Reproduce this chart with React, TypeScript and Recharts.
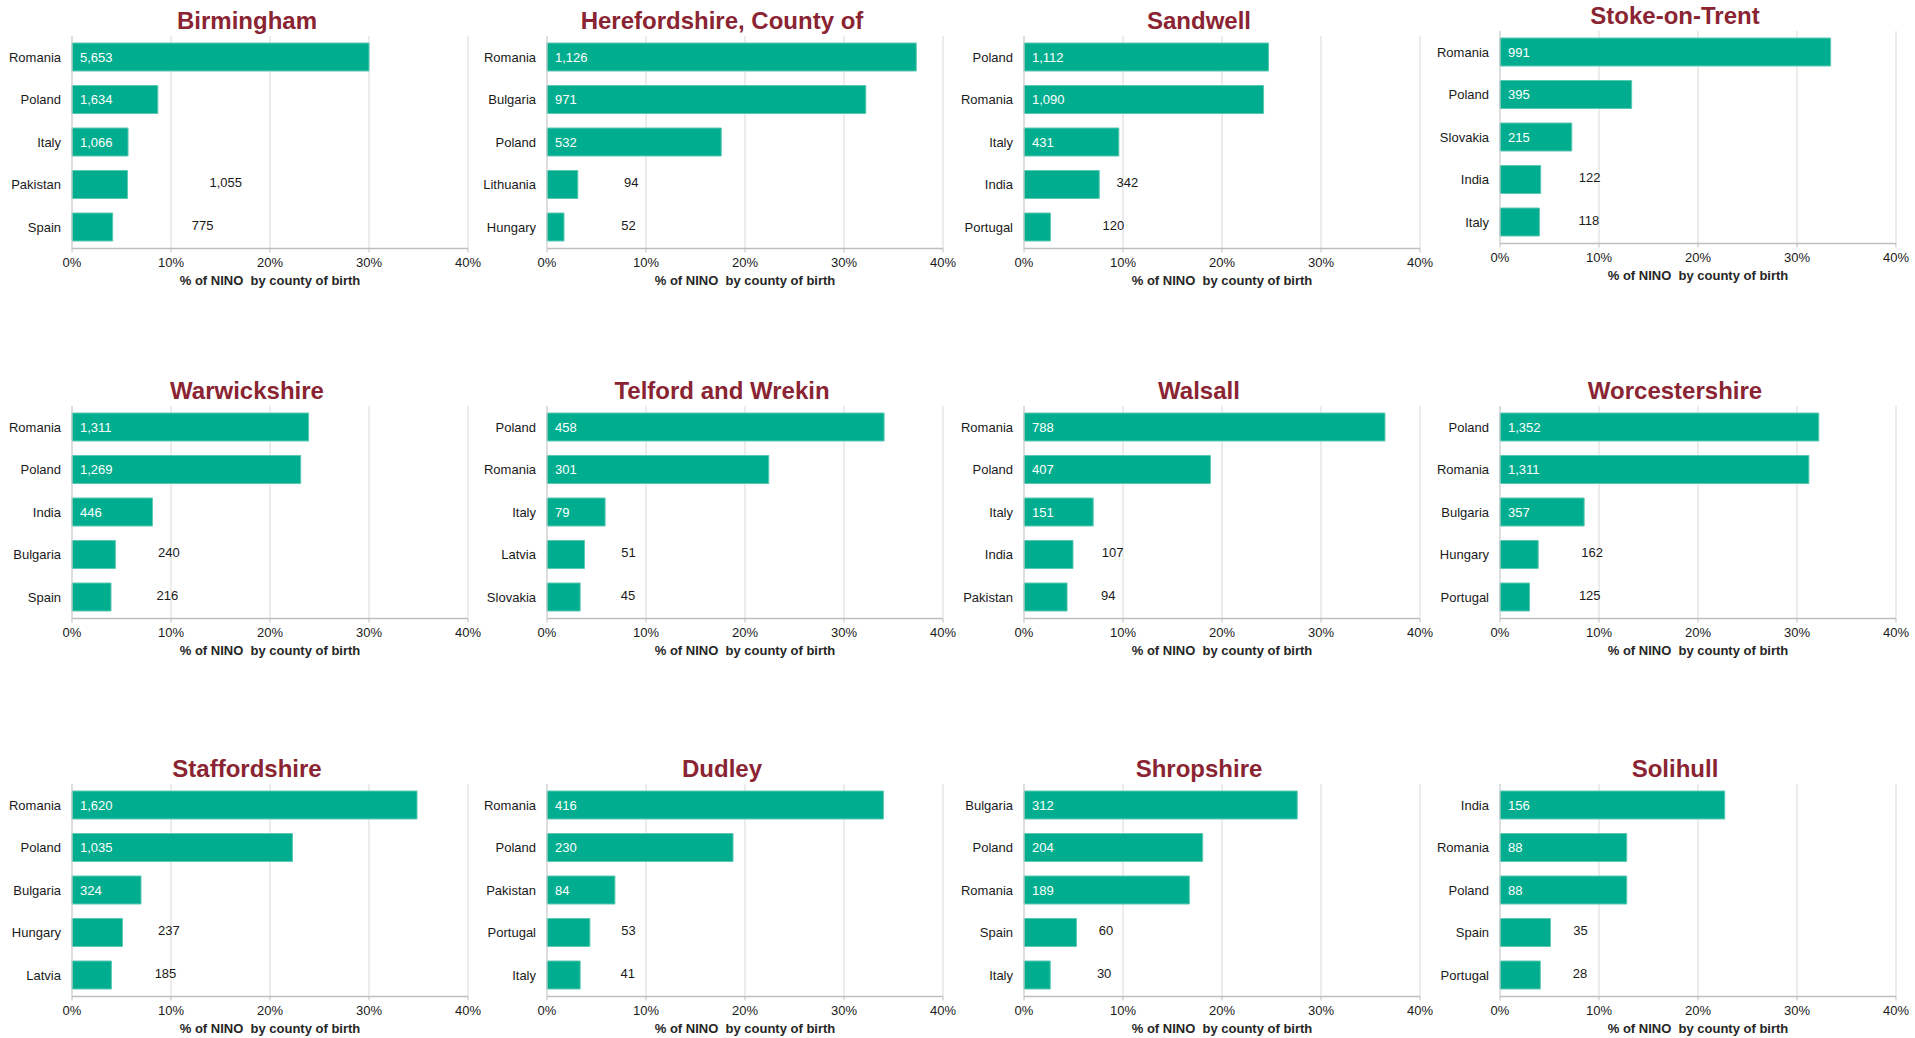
import React from "react";
import { BarChart, Bar, XAxis, YAxis, CartesianGrid, LabelList, Label } from "recharts";

// top 5 countries of birth per local authority: % share and NINo count
const birminghamCountries = ["Romania", "Poland", "Italy", "Pakistan", "Spain"];
const birminghamShare = [30.0, 8.67, 5.66, 5.6, 4.11];
const birminghamNino = [5653, 1634, 1066, 1055, 775];

const herefordshireCountries = ["Romania", "Bulgaria", "Poland", "Lithuania", "Hungary"];
const herefordshireShare = [37.3, 32.2, 17.6, 3.11, 1.72];
const herefordshireNino = [1126, 971, 532, 94, 52];

const sandwellCountries = ["Poland", "Romania", "Italy", "India", "Portugal"];
const sandwellShare = [24.7, 24.2, 9.58, 7.6, 2.67];
const sandwellNino = [1112, 1090, 431, 342, 120];

const stokeCountries = ["Romania", "Poland", "Slovakia", "India", "Italy"];
const stokeShare = [33.4, 13.3, 7.25, 4.11, 3.98];
const stokeNino = [991, 395, 215, 122, 118];

const warwickshireCountries = ["Romania", "Poland", "India", "Bulgaria", "Spain"];
const warwickshireShare = [23.9, 23.1, 8.13, 4.38, 3.94];
const warwickshireNino = [1311, 1269, 446, 240, 216];

const telfordCountries = ["Poland", "Romania", "Italy", "Latvia", "Slovakia"];
const telfordShare = [34.05, 22.4, 5.87, 3.79, 3.35];
const telfordNino = [458, 301, 79, 51, 45];

const walsallCountries = ["Romania", "Poland", "Italy", "India", "Pakistan"];
const walsallShare = [36.46, 18.83, 6.99, 4.95, 4.35];
const walsallNino = [788, 407, 151, 107, 94];

const worcestershireCountries = ["Poland", "Romania", "Bulgaria", "Hungary", "Portugal"];
const worcestershireShare = [32.2, 31.2, 8.5, 3.86, 2.98];
const worcestershireNino = [1352, 1311, 357, 162, 125];

const staffordshireCountries = ["Romania", "Poland", "Bulgaria", "Hungary", "Latvia"];
const staffordshireShare = [34.85, 22.27, 6.97, 5.1, 3.98];
const staffordshireNino = [1620, 1035, 324, 237, 185];

const dudleyCountries = ["Romania", "Poland", "Pakistan", "Portugal", "Italy"];
const dudleyShare = [33.98, 18.79, 6.86, 4.33, 3.35];
const dudleyNino = [416, 230, 84, 53, 41];

const shropshireCountries = ["Bulgaria", "Poland", "Romania", "Spain", "Italy"];
const shropshireShare = [27.6, 18.05, 16.7, 5.3, 2.65];
const shropshireNino = [312, 204, 189, 60, 30];

const solihullCountries = ["India", "Romania", "Poland", "Spain", "Portugal"];
const solihullShare = [22.7, 12.8, 12.8, 5.09, 4.07];
const solihullNino = [156, 88, 88, 35, 28];

const xTicks = [0, 10, 20, 30, 40];

const panels = [
  { title: "Birmingham", countries: birminghamCountries, share: birminghamShare, nino: birminghamNino },
  { title: "Herefordshire, County of", countries: herefordshireCountries, share: herefordshireShare, nino: herefordshireNino },
  { title: "Sandwell", countries: sandwellCountries, share: sandwellShare, nino: sandwellNino },
  { title: "Stoke-on-Trent", countries: stokeCountries, share: stokeShare, nino: stokeNino },
  { title: "Warwickshire", countries: warwickshireCountries, share: warwickshireShare, nino: warwickshireNino },
  { title: "Telford and Wrekin", countries: telfordCountries, share: telfordShare, nino: telfordNino },
  { title: "Walsall", countries: walsallCountries, share: walsallShare, nino: walsallNino },
  { title: "Worcestershire", countries: worcestershireCountries, share: worcestershireShare, nino: worcestershireNino },
  { title: "Staffordshire", countries: staffordshireCountries, share: staffordshireShare, nino: staffordshireNino },
  { title: "Dudley", countries: dudleyCountries, share: dudleyShare, nino: dudleyNino },
  { title: "Shropshire", countries: shropshireCountries, share: shropshireShare, nino: shropshireNino },
  { title: "Solihull", countries: solihullCountries, share: solihullShare, nino: solihullNino },
];

// layout (px, page coords)
const COL_X0 = [72, 547, 1024, 1500];
const PLOT_TOP = [35.5, 35.5, 35.5, 31, 405.5, 405.5, 405.5, 405.5, 783.5, 783.5, 783.5, 783.5];
const PLOT_W = 396;
const PLOT_H = 212.5;
const LEFT = 72;
const MT = 40;
const RIGHT = 26;
const XH = 42;
const MB = 8;

const FONT = '"Liberation Sans", Arial, sans-serif';
const TEAL = "#00ae8f";
const TITLE = "#8a2432";

function Panel({ p, x0, top }: { p: any; x0: number; top: number }) {
  const data = p.countries.map((c: string, i: number) => ({
    country: c,
    share: p.share[i],
    nino: p.nino[i],
  }));
  const threshold = p.nino[2];

  const renderLabel = (props: any) => {
    const vb = props.viewBox || {};
    const x = props.x ?? vb.x;
    const y = props.y ?? vb.y;
    const h = props.height ?? vb.height;
    const v = Number(props.value);
    const txt = v.toLocaleString("en-US");
    if (v >= threshold) {
      return (
        <text x={x + 8} y={y + h / 2} dy="0.36em" fill="#ffffff" fontSize={13} fontFamily={FONT}>
          {txt}
        </text>
      );
    }
    return (
      <text x={x + 71 + v * 0.063} y={y + h / 2 - 2} dy="0.36em" fill="#1a1a1a" fontSize={13} fontFamily={FONT}>
        {txt}
      </text>
    );
  };

  return (
    <div style={{ position: "absolute", left: x0 - LEFT, top: top - MT }}>
      <div
        style={{
          position: "absolute",
          left: LEFT + 175 - 200,
          width: 400,
          top: MT - 15 - 14,
          height: 28,
          lineHeight: "28px",
          textAlign: "center",
          fontFamily: FONT,
          fontWeight: 700,
          fontSize: 24,
          color: TITLE,
          whiteSpace: "nowrap",
        }}
      >
        {p.title}
      </div>
      <BarChart
        width={LEFT + PLOT_W + RIGHT}
        height={MT + PLOT_H + XH + MB}
        data={data}
        layout="vertical"
        margin={{ top: MT, right: RIGHT, bottom: MB, left: 0 }}
        style={{ fontFamily: FONT }}
      >
        <CartesianGrid horizontal={false} vertical stroke="#d9d9d9" />
        <XAxis
          type="number"
          domain={[0, 40]}
          ticks={xTicks}
          tickFormatter={(v) => `${v}%`}
          height={XH}
          tick={{ fontSize: 13, fill: "#1a1a1a" }}
          tickSize={4}
          tickMargin={5}
          axisLine={{ stroke: "#bfbfbf", strokeWidth: 1.5 }}
          tickLine={{ stroke: "#bfbfbf" }}
        >
          <Label
            value={"% of NINO\u00a0 by county of birth"}
            position="insideBottom"
            offset={6}
            style={{ fontSize: 13, fontWeight: 700, fill: "#262626" }}
          />
        </XAxis>
        <YAxis
          type="category"
          dataKey="country"
          width={LEFT}
          tick={{ fontSize: 13, fill: "#1a1a1a" }}
          tickLine={false}
          tickMargin={5}
          axisLine={{ stroke: "#d0d0d0" }}
        />
        <Bar dataKey="share" fill={TEAL} stroke="#5cc8b2" strokeWidth={1} barSize={28} isAnimationActive={false}>
          <LabelList dataKey="nino" content={renderLabel} />
        </Bar>
      </BarChart>
    </div>
  );
}

export default function App() {
  return (
    <div style={{ position: "absolute", left: 0, top: 0, width: 1915, height: 1038, background: "#ffffff" }}>
      {panels.map((p, i) => (
        <Panel key={p.title} p={p} x0={COL_X0[i % 4]} top={PLOT_TOP[i]} />
      ))}
    </div>
  );
}
